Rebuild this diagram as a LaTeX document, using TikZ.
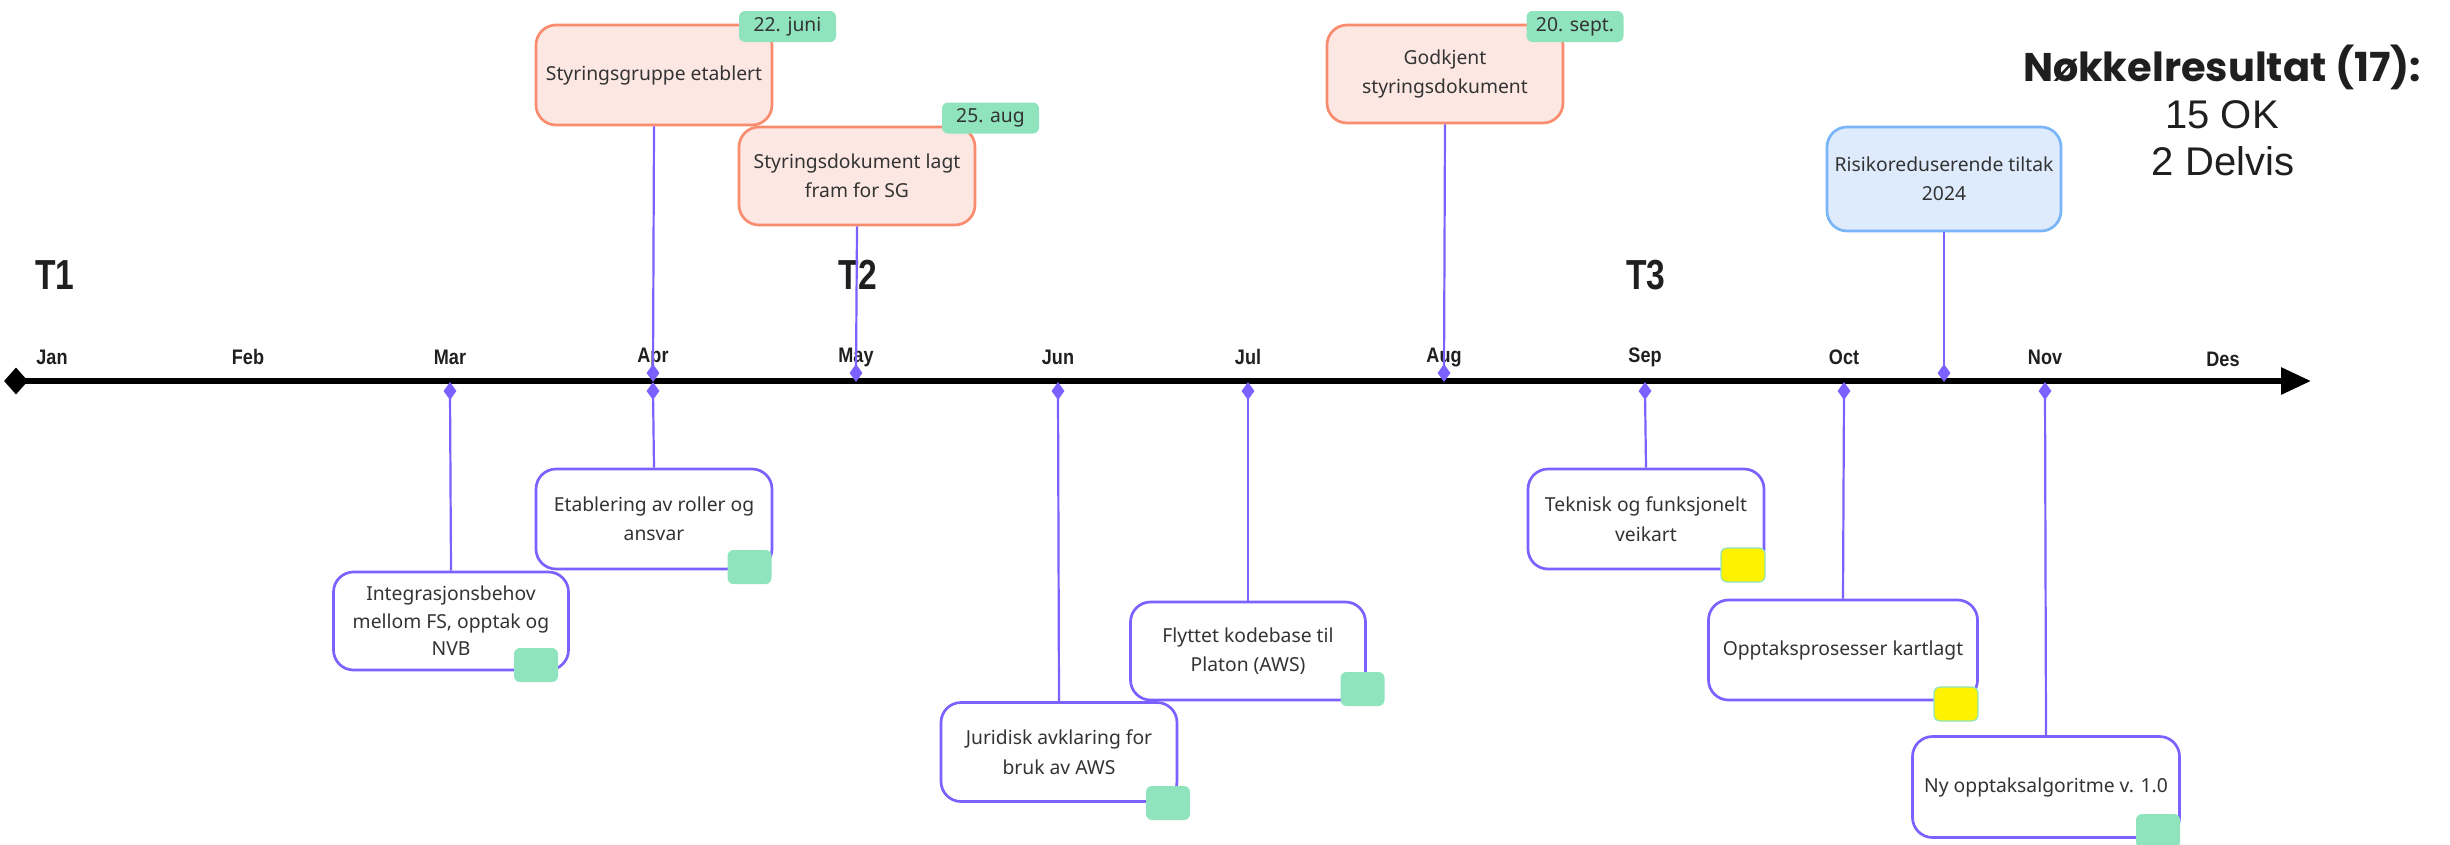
\documentclass[tikz,border=0pt]{standalone}
\usepackage{fontspec}
\setmainfont{Noto Sans}
\newfontfamily\libsans{Liberation Sans}
\newfontfamily\poppins{Poppins}
\usetikzlibrary{shapes.geometric,arrows.meta}
\definecolor{purp}{HTML}{7B61FF}
\definecolor{salfill}{HTML}{FDE7E3}
\definecolor{saldraw}{HTML}{F98C6E}
\definecolor{bluefill}{HTML}{DDEBFD}
\definecolor{bluedraw}{HTML}{7AB5F8}
\definecolor{tagg}{HTML}{8FE3BD}
\definecolor{yel}{HTML}{FFF200}
\definecolor{txt}{HTML}{333333}
\newcommand\cond[1]{\scalebox{0.86}[1]{#1}}
\tikzset{
 pbox/.style={draw=purp, line width=2.7pt, rounded corners=20pt, fill=white, minimum height=100pt, inner xsep=4pt, inner ysep=2pt, align=center, text=txt, font=\fontsize{19.3pt}{29.5pt}\selectfont},
 sbox/.style={pbox, draw=saldraw, fill=salfill},
 bbox/.style={pbox, draw=bluedraw, fill=bluefill},
 datetag/.style={fill=tagg, rounded corners=6pt, minimum width=97pt, minimum height=31pt, inner sep=0pt, text=txt, font=\fontsize{19.3pt}{23pt}\selectfont},
 gsq/.style={fill=tagg, rounded corners=6pt, minimum width=44pt, minimum height=34pt, inner sep=0pt},
 ysq/.style={gsq, fill=yel, draw=tagg, line width=1.2pt},
 pd/.style={diamond, fill=purp, inner sep=0pt, minimum width=13pt, minimum height=18pt},
 conn/.style={draw=purp, line width=2.2pt},
 month/.style={font=\libsans\bfseries\fontsize{21pt}{24pt}\selectfont, text=black!88, inner sep=0pt},
 tlabel/.style={font=\libsans\bfseries\fontsize{42pt}{46pt}\selectfont, text=black!88, inner sep=0pt},
}
\begin{document}
\begin{tikzpicture}[x=1pt,y=-1pt]
\useasboundingbox (0,0) rectangle (2450,844);
% timeline
\node[diamond, fill=black, inner sep=0pt, minimum width=24pt, minimum height=27pt] (tl0) at (16,381) {};
\coordinate (tlend) at (2311,381);
\draw[line width=6pt, -{Triangle[length=30pt,width=26pt]}] (tl0.center) -- (tlend);
% months
\node[month] (mJan) at (52,357) {\cond{Jan}};
\node[month] (mFeb) at (248,357) {\cond{Feb}};
\node[month] (mMar) at (450,357) {\cond{Mar}};
\node[month] (mApr) at (653,357) {\cond{Apr}};
\node[month] (mMay) at (856,357) {\cond{May}};
\node[month] (mJun) at (1058,357) {\cond{Jun}};
\node[month] (mJul) at (1248,357) {\cond{Jul}};
\node[month] (mAug) at (1444,357) {\cond{Aug}};
\node[month] (mSep) at (1645,357) {\cond{Sep}};
\node[month] (mOct) at (1844,357) {\cond{Oct}};
\node[month] (mNov) at (2045,357) {\cond{Nov}};
\node[month] (mDes) at (2223,359) {\cond{Des}};
% terms
\node[tlabel] (t1) at (55,275) {\scalebox{0.8}[1]{T1}};
\node[tlabel] (t2) at (858,275) {\scalebox{0.8}[1]{T2}};
\node[tlabel] (t3) at (1646,275) {\scalebox{0.8}[1]{T3}};
% top boxes
\node[sbox, minimum width=236pt] (sg) at (654,75) {Styringsgruppe etablert};
\node[datetag] (sgt) at (787.5,26.5) {22. juni};
\node[sbox, minimum width=236pt, minimum height=98pt] (sd) at (857,176) {Styringsdokument lagt\\fram for SG};
\node[datetag] (sdt) at (990.5,118) {25. aug};
\node[sbox, minimum width=236pt, minimum height=98pt] (gd) at (1445,74) {Godkjent\\styringsdokument};
\node[datetag] (gdt) at (1575,26.5) {20. sept.};
\node[bbox, minimum width=234pt, minimum height=104pt] (rt) at (1944,179) {Risikoreduserende tiltak\\2024};
% bottom boxes
\node[pbox, minimum width=235pt, minimum height=98pt, font=\fontsize{19.3pt}{27.5pt}\selectfont] (integ) at (451,621) {Integrasjonsbehov\\mellom FS, opptak og\\NVB};
\node[gsq] (integs) at (536,665) {};
\node[pbox, minimum width=236pt] (etab) at (654,519) {Etablering av roller og\\ansvar};
\node[gsq] (etabs) at (749.5,567) {};
\node[pbox, minimum width=236pt, minimum height=99pt] (jur) at (1059,752) {Juridisk avklaring for\\bruk av AWS};
\node[gsq] (jurs) at (1168,803) {};
\node[pbox, minimum width=235pt, minimum height=98pt] (fly) at (1248,651) {Flyttet kodebase til\\Platon (AWS)};
\node[gsq] (flys) at (1362.5,689) {};
\node[pbox, minimum width=236pt] (tek) at (1646,519) {Teknisk og funksjonelt\\veikart};
\node[ysq] (teks) at (1743,565) {};
\node[pbox, minimum width=269pt] (opp) at (1843,650) {Opptaksprosesser kartlagt};
\node[ysq] (opps) at (1956,704) {};
\node[pbox, minimum width=267pt, minimum height=101pt] (ny) at (2046,787) {Ny opptaksalgoritme v. 1.0};
\node[gsq] (nys) at (2158,831) {};
% diamonds
\node[pd] (dAprU) at (653,373) {};
\node[pd] (dMayU) at (856,373) {};
\node[pd] (dAugU) at (1444,373) {};
\node[pd] (dRisU) at (1944,373) {};
\node[pd] (dMarL) at (450,391) {};
\node[pd] (dAprL) at (653,391) {};
\node[pd] (dJunL) at (1058,391) {};
\node[pd] (dJulL) at (1248,391) {};
\node[pd] (dSepL) at (1645,391) {};
\node[pd] (dOctL) at (1844,391) {};
\node[pd] (dNovL) at (2045,391) {};
% connectors
\draw[conn] (sg.south) -- (dAprU.center);
\draw[conn] (sd.south) -- (dMayU.center);
\draw[conn] (gd.south) -- (dAugU.center);
\draw[conn] (rt.south) -- (dRisU.center);
\draw[conn] (dMarL.center) -- (integ.north);
\draw[conn] (dAprL.center) -- (etab.north);
\draw[conn] (dJunL.center) -- (jur.north);
\draw[conn] (dJulL.center) -- (fly.north);
\draw[conn] (dSepL.center) -- (tek.north);
\draw[conn] (dOctL.center) -- (opp.north);
\draw[conn] (dNovL.center) -- (ny.north);
% key results
\node[font=\poppins\bfseries\fontsize{40pt}{44pt}\selectfont, text=black!88, inner sep=0pt] (nk) at (2222,67) {Nøkkelresultat (17):};
\node[font=\libsans\fontsize{40pt}{44pt}\selectfont, text=black!88, inner sep=0pt] (ok) at (2222,115) {15 OK};
\node[font=\libsans\fontsize{40pt}{44pt}\selectfont, text=black!88, inner sep=0pt] (dv) at (2223,161) {2 Delvis};
\end{tikzpicture}
\end{document}
